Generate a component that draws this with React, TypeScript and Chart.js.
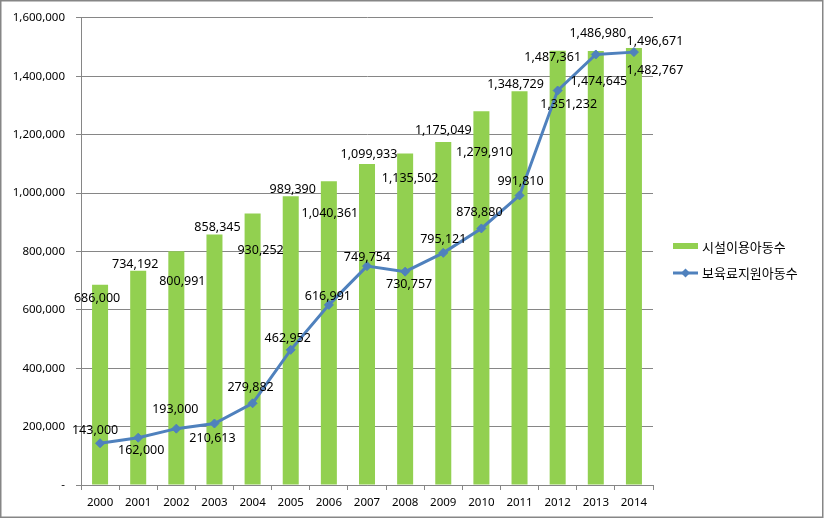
import React, { useEffect, useRef } from 'react';
import { Chart, registerables } from 'chart.js';

Chart.register(...registerables);

// ---- data ----
const years = ['2000', '2001', '2002', '2003', '2004', '2005', '2006', '2007', '2008', '2009', '2010', '2011', '2012', '2013', '2014'];
const facilityUsers = [686000, 734192, 800991, 858345, 930252, 989390, 1040361, 1099933, 1135502, 1175049, 1279910, 1348729, 1487361, 1486980, 1496671];
const subsidyRecipients = [143000, 162000, 193000, 210613, 279882, 462952, 616991, 749754, 730757, 795121, 878880, 991810, 1351232, 1474645, 1482767];
const seriesNames = ['시설이용아동수', '보육료지원아동수'];
const yMin = 0;
const yMax = 1600000;
const yStep = 200000;

// ---- data-label nudges (pixels, relative to each mark) ----
const barLabelDx = [-3, -3, 6, 3, 8, 2, 1, 2, 5, 0, 3, -4, -5, 2, 21];
const barLabelDy = [14, -6, 30, -7, 37, -7, 32, -9, 25, -12, 41, -7, 7, -17, -7];
const lineLabelDx = [-5, 3, -1, -2, -2, -3, -1, 0, 4, 0, -2, 1, 11, 3, 21];
const lineLabelDy = [-13, 13, -19, 15, -16, -11, -8, -9, 13, -13, -16, -14, 14, 27, 18];

const BAR_COLOR = '#92D050';
const LINE_COLOR = '#4F81BD';
const GRID_COLOR = '#868686';
const FONT = '"Noto Sans", "Liberation Sans", sans-serif';
const CJK = '"Noto Sans CJK KR", "Noto Sans", sans-serif';

const fmt = (v: number) => (v === 0 ? '-' : v.toLocaleString('en-US'));

export default function App() {
  const ref = useRef<HTMLCanvasElement>(null);

  useEffect(() => {
    if (!ref.current) return;

    const bgPlugin = {
      id: 'bg',
      beforeDraw(chart: any) {
        const ctx = chart.ctx;
        ctx.save();
        ctx.fillStyle = '#ffffff';
        ctx.fillRect(0, 0, chart.width, chart.height);
        ctx.restore();
      },
    };

    const labelPlugin = {
      id: 'dataLabels',
      afterDatasetsDraw(chart: any) {
        const ctx = chart.ctx;
        ctx.save();
        ctx.font = `12.5px ${FONT}`;
        ctx.fillStyle = '#000000';
        ctx.textAlign = 'center';
        ctx.textBaseline = 'middle';
        const barMeta = chart.getDatasetMeta(0);
        barMeta.data.forEach((el: any, i: number) => {
          ctx.fillText(fmt(facilityUsers[i]), el.x + barLabelDx[i], el.y + barLabelDy[i]);
        });
        const lineMeta = chart.getDatasetMeta(1);
        lineMeta.data.forEach((el: any, i: number) => {
          ctx.fillText(fmt(subsidyRecipients[i]), el.x + lineLabelDx[i], el.y + lineLabelDy[i]);
        });
        ctx.restore();
      },
    };

    const framePlugin = {
      id: 'frameLegend',
      afterDraw(chart: any) {
        const ctx = chart.ctx;
        ctx.save();
        // outer frame
        ctx.strokeStyle = GRID_COLOR;
        ctx.lineWidth = 1.5;
        ctx.strokeRect(0.75, 0.75, chart.width - 2, chart.height - 2.5);

        // legend
        const lx = chart.chartArea.right + 20;
        const y1 = 246;
        const y2 = 273;
        ctx.fillStyle = BAR_COLOR;
        ctx.fillRect(lx, y1 - 3, 25, 6);
        ctx.strokeStyle = LINE_COLOR;
        ctx.lineWidth = 3;
        ctx.beginPath();
        ctx.moveTo(lx, y2);
        ctx.lineTo(lx + 25, y2);
        ctx.stroke();
        ctx.fillStyle = LINE_COLOR;
        ctx.beginPath();
        const cx = lx + 12.5;
        ctx.moveTo(cx, y2 - 4.5);
        ctx.lineTo(cx + 4.5, y2);
        ctx.lineTo(cx, y2 + 4.5);
        ctx.lineTo(cx - 4.5, y2);
        ctx.closePath();
        ctx.fill();

        ctx.fillStyle = '#000000';
        ctx.font = `13px ${CJK}`;
        ctx.textAlign = 'left';
        ctx.textBaseline = 'middle';
        ctx.fillText(seriesNames[0], lx + 29, y1 + 1);
        ctx.fillText(seriesNames[1], lx + 29, y2);
        ctx.restore();
      },
    };

    const chart = new Chart(ref.current, {
      type: 'bar',
      data: {
        labels: years,
        datasets: [
          {
            type: 'bar',
            label: seriesNames[0],
            data: facilityUsers,
            backgroundColor: BAR_COLOR,
            borderWidth: 0,
            categoryPercentage: 1,
            barPercentage: 0.42,
            order: 2,
          } as any,
          {
            type: 'line',
            label: seriesNames[1],
            data: subsidyRecipients,
            borderColor: LINE_COLOR,
            backgroundColor: LINE_COLOR,
            borderWidth: 3,
            pointStyle: 'rectRot',
            pointRadius: 4.5,
            pointBorderWidth: 1,
            pointBackgroundColor: LINE_COLOR,
            pointBorderColor: LINE_COLOR,
            tension: 0,
            fill: false,
            order: 1,
          } as any,
        ],
      },
      options: {
        responsive: false,
        animation: false,
        devicePixelRatio: 1,
        layout: { padding: { top: 15, right: 171, left: 0, bottom: 0 } },
        plugins: {
          legend: { display: false },
          tooltip: { enabled: false },
          title: { display: false },
        },
        scales: {
          x: {
            offset: true,
            grid: {
              offset: true,
              drawOnChartArea: false,
              drawTicks: true,
              tickLength: 5,
              color: GRID_COLOR,
            },
            border: { display: true, color: GRID_COLOR, width: 1 },
            ticks: {
              color: '#000000',
              font: { family: FONT, size: 11.5 },
              padding: 6,
              maxRotation: 0,
              autoSkip: false,
            },
            afterFit: (scale: any) => {
              scale.height = 34;
            },
          },
          y: {
            min: yMin,
            max: yMax,
            grid: {
              color: GRID_COLOR,
              lineWidth: 1,
              drawTicks: true,
              tickLength: 5,
            },
            border: { display: true, color: GRID_COLOR, width: 1 },
            ticks: {
              stepSize: yStep,
              color: '#000000',
              font: { family: FONT, size: 11.5 },
              padding: 11,
              callback: (v: any) => fmt(Number(v)),
            },
            afterFit: (scale: any) => {
              scale.width = 81;
            },
          },
        },
      },
      plugins: [bgPlugin, labelPlugin, framePlugin],
    });

    return () => chart.destroy();
  }, []);

  return (
    <canvas
      ref={ref}
      width={824}
      height={519}
      style={{ position: 'fixed', left: 0, top: 0, width: 824, height: 519, display: 'block' }}
    />
  );
}
